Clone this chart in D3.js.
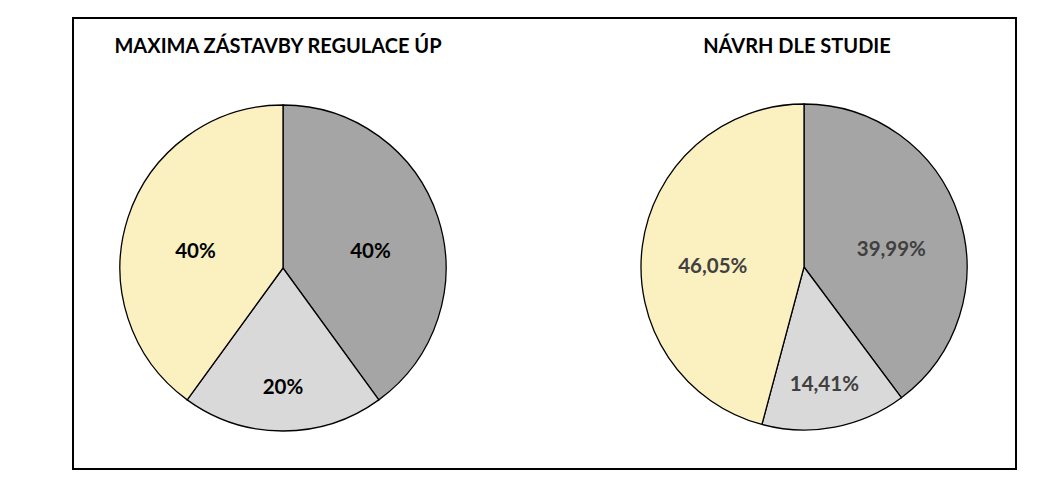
<!DOCTYPE html>
<html><head><meta charset="utf-8">
<script src="https://cdn.jsdelivr.net/npm/d3@7"></script>
<style>html,body{margin:0;padding:0;background:#fff;}svg{display:block;}</style>
</head><body>
<svg id="c" width="1051" height="479"></svg>
<script>
const categories = ["A", "B", "C"];
const titles = ["MAXIMA ZÁSTAVBY REGULACE ÚP", "NÁVRH DLE STUDIE"];
const valuesLeft = [40, 20, 40];
const valuesRight = [39.99, 14.41, 46.05];
const labelsLeft = ["40%", "20%", "40%"];
const labelsRight = ["39,99%", "14,41%", "46,05%"];
const colors = ["#a5a5a5", "#d9d9d9", "#fbf0c0"];

const svg = d3.select("#c");
svg.append("rect").attr("x", 73).attr("y", 18).attr("width", 943).attr("height", 451)
  .attr("fill", "#fff").attr("stroke", "#000").attr("stroke-width", 2);

const color = d3.scaleOrdinal().domain(categories).range(colors);
const pie = d3.pie().sort(null).value(d => d.v);
const R = 163;
const arc = d3.arc().innerRadius(0).outerRadius(R);

function drawPie(cx, cy, title, tx, ty, vals, labs, labelColor) {
  const g = svg.append("g").attr("transform", `translate(${cx},${cy})`);
  const data = categories.map((c, i) => ({c, v: vals[i], l: labs[i]}));
  const arcs = pie(data);
  g.selectAll("path").data(arcs).join("path")
    .attr("d", arc).attr("fill", d => color(d.data.c))
    .attr("stroke", "#000").attr("stroke-width", 1.3);
  // smaller slices get labels further out (best-fit style)
  const lr = d => {
    const frac = (d.endAngle - d.startAngle) / (2 * Math.PI);
    return frac < 0.3 ? 108 : 92;
  };
  g.selectAll("text").data(arcs).join("text")
    .attr("transform", d => {
      const r = lr(d);
      const c = d3.arc().innerRadius(r).outerRadius(r).centroid(d);
      return `translate(${c[0]},${c[1] + 11})`;
    })
    .attr("text-anchor", "middle").attr("dy", "0.35em")
    .attr("font-family", "Lato, 'Open Sans', sans-serif").attr("font-weight", "bold")
    .attr("font-size", 20.5).attr("fill", labelColor)
    .text(d => d.data.l);
  svg.append("text").attr("x", tx).attr("y", ty).attr("text-anchor", "middle")
    .attr("font-family", "Lato, 'Open Sans', sans-serif").attr("font-weight", "bold")
    .attr("font-size", 20).attr("fill", "#000").text(title);
}
drawPie(283, 268, titles[0], 278, 53, valuesLeft, labelsLeft, "#000");
drawPie(804, 267, titles[1], 797, 53, valuesRight, labelsRight, "#404040");
</script>
</body></html>
